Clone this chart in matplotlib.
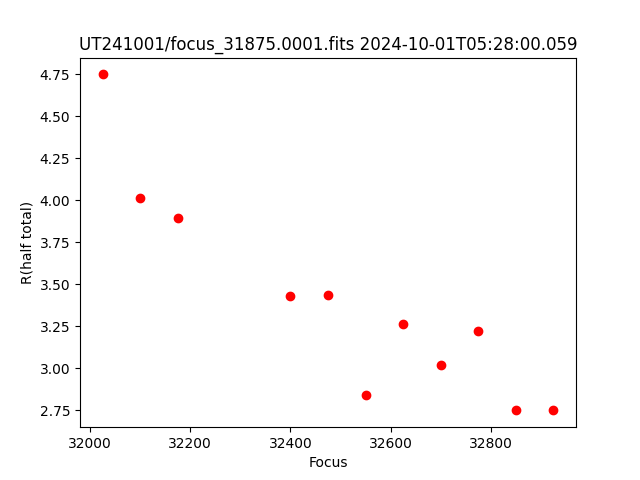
import matplotlib
matplotlib.use("Agg")
import matplotlib.pyplot as plt

focus = [32025, 32100, 32175, 32400, 32475, 32550, 32625, 32700, 32775, 32850, 32925]
r_half = [4.75, 4.012, 3.893, 3.429, 3.435, 2.839, 3.262, 3.018, 3.220, 2.75, 2.75]

fig, ax = plt.subplots(figsize=(6.4, 4.8), dpi=100)
ax.plot(focus, r_half, 'o', color='red', linestyle='none')
ax.set_xlabel("Focus")
ax.set_ylabel("R(half total)")
ax.set_title("UT241001/focus_31875.0001.fits 2024-10-01T05:28:00.059")
fig.savefig("out.png", dpi=100)
